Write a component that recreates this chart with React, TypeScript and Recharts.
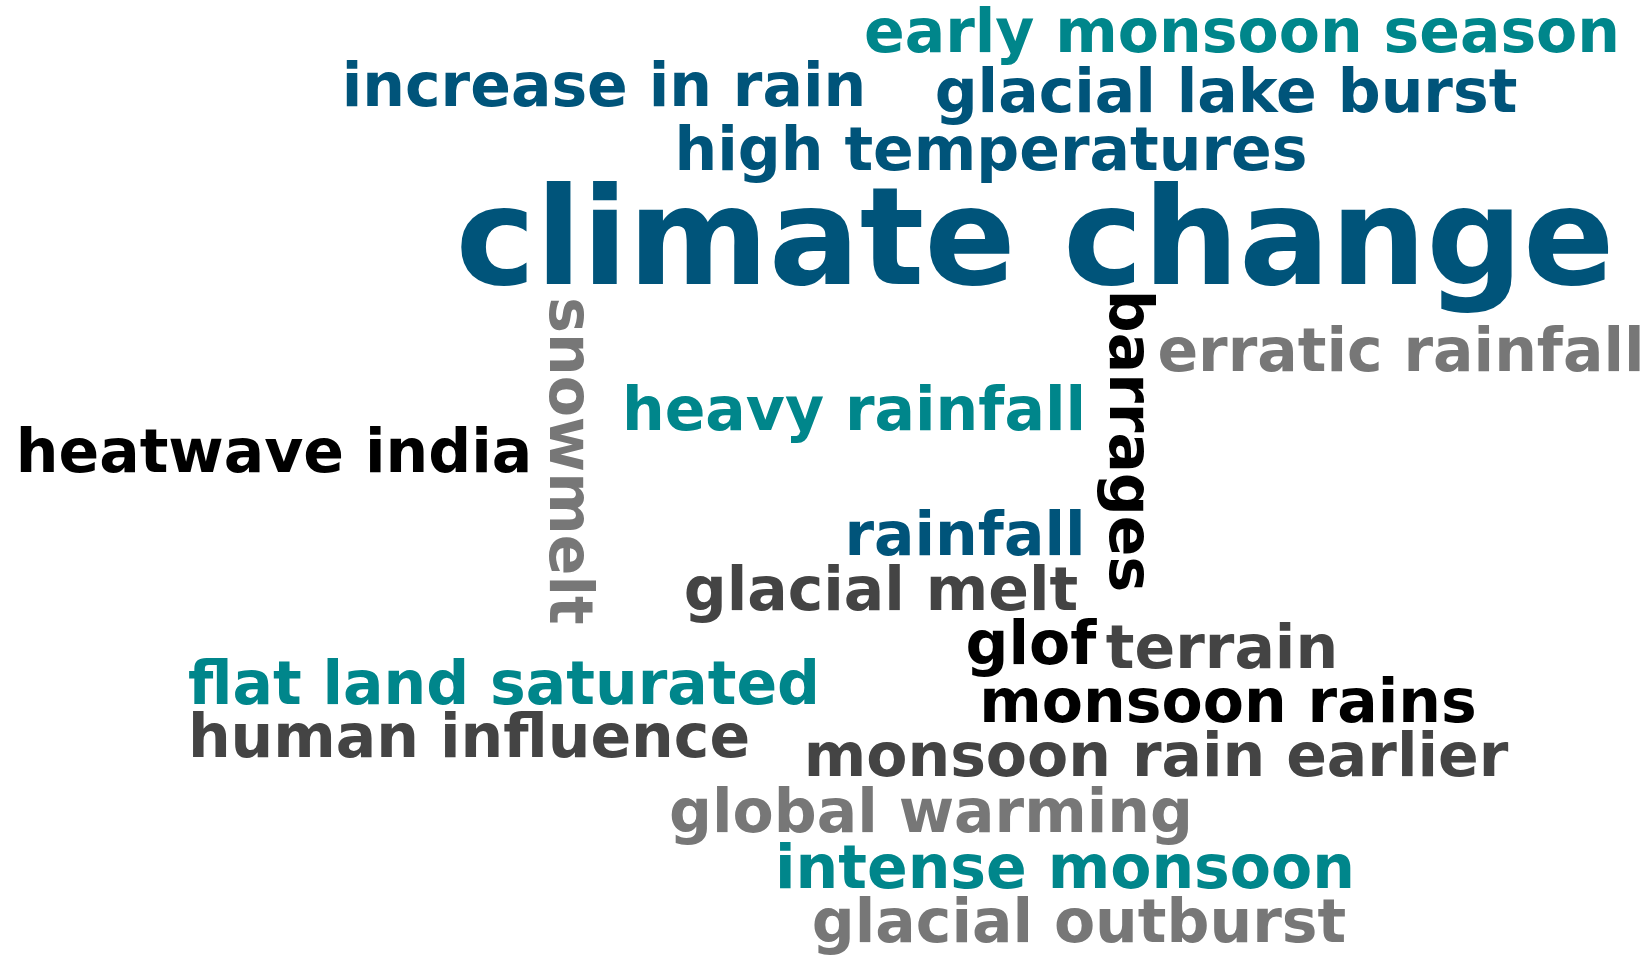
import { ScatterChart, Scatter, XAxis, YAxis } from 'recharts';

// word cloud terms
const words = [
  'early monsoon season', 'increase in rain', 'glacial lake burst', 'high temperatures',
  'climate change', 'snowmelt', 'barrages', 'erratic rainfall', 'heavy rainfall',
  'heatwave india', 'rainfall', 'glacial melt', 'glof', 'terrain', 'flat land saturated',
  'human influence', 'monsoon rains', 'monsoon rain earlier', 'global warming',
  'intense monsoon', 'glacial outburst',
];
// relative frequency of each term
const freq = [12, 12, 12, 12, 27, 12, 12, 12, 12, 12, 12, 12, 12, 12, 12, 12, 12, 12, 12, 12, 12];
// cloud layout coordinates (word centre along its reading direction, baseline across it)
const cloudX = [1242, 604, 1226, 991, 1035, 550, 1110, 1401, 854, 274, 965, 881, 1031, 1222, 504, 469, 1228, 1156, 931, 1065, 1079];
const cloudY = [52, 106, 112, 170, 284, 461, 441, 371, 430, 472, 555, 610, 664, 668, 704, 757, 722, 776, 832, 888, 942];
const vertical = [0, 0, 0, 0, 0, 1, 1, 0, 0, 0, 0, 0, 0, 0, 0, 0, 0, 0, 0, 0, 0];
const colorGroup = [1, 0, 0, 0, 0, 4, 2, 4, 1, 2, 0, 3, 2, 3, 1, 3, 2, 3, 4, 1, 4];

const palette = ['#00547a', '#00868b', '#000000', '#444444', '#777777'];
const FONT_PER_FREQ = 5;

const data = words.map((w, i) => ({
  word: w,
  x: cloudX[i],
  y: cloudY[i],
  freq: freq[i],
  vertical: vertical[i],
  group: colorGroup[i],
}));

function WordShape(props: any) {
  const { cx, cy, payload } = props;
  const size = payload.freq * FONT_PER_FREQ;
  return (
    <text
      x={cx}
      y={cy}
      textAnchor="middle"
      fontSize={size}
      fontWeight="bold"
      fontFamily="'DejaVu Sans', Verdana, sans-serif"
      fill={palette[payload.group]}
      transform={payload.vertical ? `rotate(90, ${cx}, ${cy})` : undefined}
    >
      {payload.word}
    </text>
  );
}

export default function App() {
  return (
    <div style={{ position: 'absolute', left: 0, top: 0, background: '#fff' }}>
      <ScatterChart width={1652} height={957} margin={{ top: 0, right: 0, bottom: 0, left: 0 }}>
        <XAxis type="number" dataKey="x" domain={[0, 1652]} hide />
        <YAxis type="number" dataKey="y" domain={[0, 957]} reversed hide />
        <Scatter data={data} shape={WordShape} isAnimationActive={false} />
      </ScatterChart>
    </div>
  );
}
